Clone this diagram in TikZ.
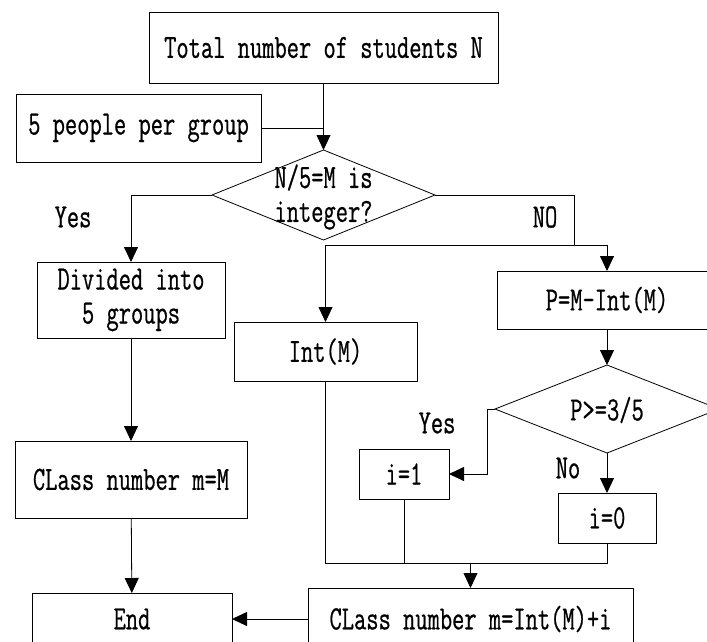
\documentclass[tikz,border=0pt]{standalone}
\usepackage{fontspec}
\setmainfont[FakeStretch=0.70,FakeBold=0.6]{Latin Modern Mono}
\usetikzlibrary{shapes.geometric,arrows.meta}

\begin{document}
\begin{tikzpicture}[x=1pt, y=-1pt, line width=0.8pt]%
  \tikzset{flow arrow/.style={draw,-{Triangle[length=15pt,width=14pt]}}}
  \tikzset{flow line/.style={draw}}
  \tikzstyle{every node}=[font=\fontsize{34}{34}\selectfont, inner sep=0pt, outer sep=0pt, align=center]
  \tikzstyle{box}=[draw, rectangle]
  \tikzstyle{choice}=[draw, diamond]

  \useasboundingbox (0,0) rectangle (707,641);
  \clip (0,0) rectangle (707,641);

  \node[box, minimum width=349pt, minimum height=71pt] at (323.5,47.5) (total) {Total number of students N};
  \node[box, minimum width=245pt, minimum height=68pt] at (138.5,128) (pergroup) {5 people per group};
  \node[choice, minimum width=223pt, minimum height=90pt] at (323.5,195) (isint) {};
  \node at (323.5,197) (isinttext) {N/5=M is\\integer?};

  \node[box, minimum width=188pt, minimum height=76pt] at (131,300) (divided) {Divided into\\5 groups};
  \node[box, minimum width=183pt, minimum height=59pt] at (325.5,351.5) (intm) {Int(M)};
  \node[box, minimum width=220pt, minimum height=58pt] at (607,300) (pbox) {P=M-Int(M)};
  \node[choice, minimum width=224pt, minimum height=88pt] at (607,409) (pcheck) {};
  \node at (607,410) (pchecktext) {P>=3/5};

  \node[box, minimum width=90pt, minimum height=50pt] at (404,474) (ione) {i=1};
  \node[box, minimum width=98pt, minimum height=50pt] at (607,518) (izero) {i=0};
  \node[box, minimum width=232pt, minimum height=77pt] at (131,479.5) (classm) {CLass number m=M};
  \node[box, minimum width=200pt, minimum height=52pt] at (132,619) (endbox) {End};
  \node[box, minimum width=325pt, minimum height=62pt] at (470.5,619) (classi) {CLass number m=Int(M)+i};

  \node at (73,217) (yesone) {Yes};
  \node at (545,217) (noone) {NO};
  \node at (437,423) (yestwo) {Yes};
  \node at (568,468) (notwo) {No};

  \coordinate (nosplit) at (574,245);
  \coordinate (yesturn) at (487,409);
  \coordinate (merge) at (470.5,563);

  \path[flow arrow] (total) -- (isint);
  \path[flow line] (pergroup.east) -- (pergroup.east -| total.south);
  \path[flow arrow] (isint.west) -| (divided.north);
  \path[flow line] (isint.east) -| (nosplit);
  \path[flow arrow] (nosplit) -| (intm.north);
  \path[flow arrow] (nosplit) -| (pbox.north);
  \path[flow arrow] (pbox) -- (pcheck);
  \path[flow arrow] (pcheck.west) -- (yesturn) |- (ione.east);
  \path[flow arrow] (pcheck.south) -- (izero.north);
  \path[flow line] (intm.south) -- (intm.south |- merge) -- (izero.south |- merge) -- (izero.south);
  \path[flow line] (ione.south) -- (ione.south |- merge);
  \path[flow arrow] (merge) -- (classi.north);
  \path[flow arrow] (divided) -- (classm);
  \path[flow arrow] (classm) -- (endbox);
  \path[flow arrow] (classi) -- (endbox);
\end{tikzpicture}
\end{document}
